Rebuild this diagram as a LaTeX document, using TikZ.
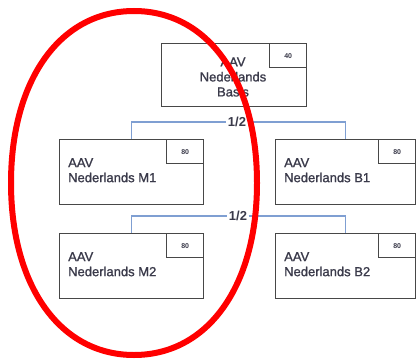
\documentclass[tikz,border=0pt]{standalone}
\usepackage{fontspec}
\setmainfont{Liberation Sans}
\newfontfamily\heavyfont[FakeBold=1.2]{Liberation Sans}
\definecolor{boxgray}{HTML}{474747}
\definecolor{connblue}{HTML}{7F9FD2}
\definecolor{txtcol}{HTML}{3A3A4A}
\begin{document}
\begin{tikzpicture}[x=1pt,y=-1pt,
  box/.style={draw=boxgray, line width=1.4pt, fill=white, anchor=north west, inner sep=0pt},
  tag/.style={draw=boxgray, line width=1.4pt, anchor=north east, minimum width=37pt, minimum height=24pt, inner sep=0pt, font=\fontsize{7}{7}\selectfont\bfseries, text=txtcol},
  lbl/.style={anchor=north west, align=left, inner sep=0pt, text=txtcol, font=\heavyfont\fontsize{13}{15}\selectfont},
  conn/.style={draw=connblue, line width=1.2pt},
  half/.style={fill=white, inner sep=1.5pt, text=txtcol, font=\fontsize{13}{13}\selectfont\bfseries},
  redring/.style={draw=red, line width=6pt}]
\useasboundingbox (0,0) rectangle (417,361);
% boxes
\node[box, minimum width=145pt, minimum height=63pt] (top) at (161,43) {};
\node[tag] (toptag) at (top.north east) {40};
\node[align=center, inner sep=0pt, text=txtcol, font=\heavyfont\fontsize{13}{15}\selectfont] (toptxt) at (233,77) {AAV\\Nederlands\\Basis};

\node[box, minimum width=144pt, minimum height=65pt] (m1) at (59,139) {};
\node[tag] (m1tag) at (m1.north east) {80};
\node[lbl] (m1txt) at (68,158) {AAV\\Nederlands M1};

\node[box, minimum width=140pt, minimum height=65pt] (b1) at (275,139) {};
\node[tag] (b1tag) at (b1.north east) {80};
\node[lbl] (b1txt) at (284,158) {AAV\\Nederlands B1};

\node[box, minimum width=144pt, minimum height=65pt] (m2) at (59,233) {};
\node[tag] (m2tag) at (m2.north east) {80};
\node[lbl] (m2txt) at (68,252) {AAV\\Nederlands M2};

\node[box, minimum width=140pt, minimum height=65pt] (b2) at (275,233) {};
\node[tag] (b2tag) at (b2.north east) {80};
\node[lbl] (b2txt) at (284,252) {AAV\\Nederlands B2};

% connectors
\node[half] (h1) at (237,122) {1/2};
\draw[conn] (m1.north) |- (h1.west);
\draw[conn] (h1.east) -| (b1.north);
\node[half] (h2) at (238,216) {1/2};
\draw[conn] (m2.north) |- (h2.west);
\draw[conn] (h2.east) -| (b2.north);

% red ring
\draw[redring] (134,11) .. controls (207.8,11) and (257,79.8) .. (257,183)
  .. controls (257,286.2) and (207.8,355) .. (134,355)
  .. controls (60.2,355) and (11,286.2) .. (11,183)
  .. controls (11,79.8) and (60.2,11) .. cycle;
\end{tikzpicture}
\end{document}
